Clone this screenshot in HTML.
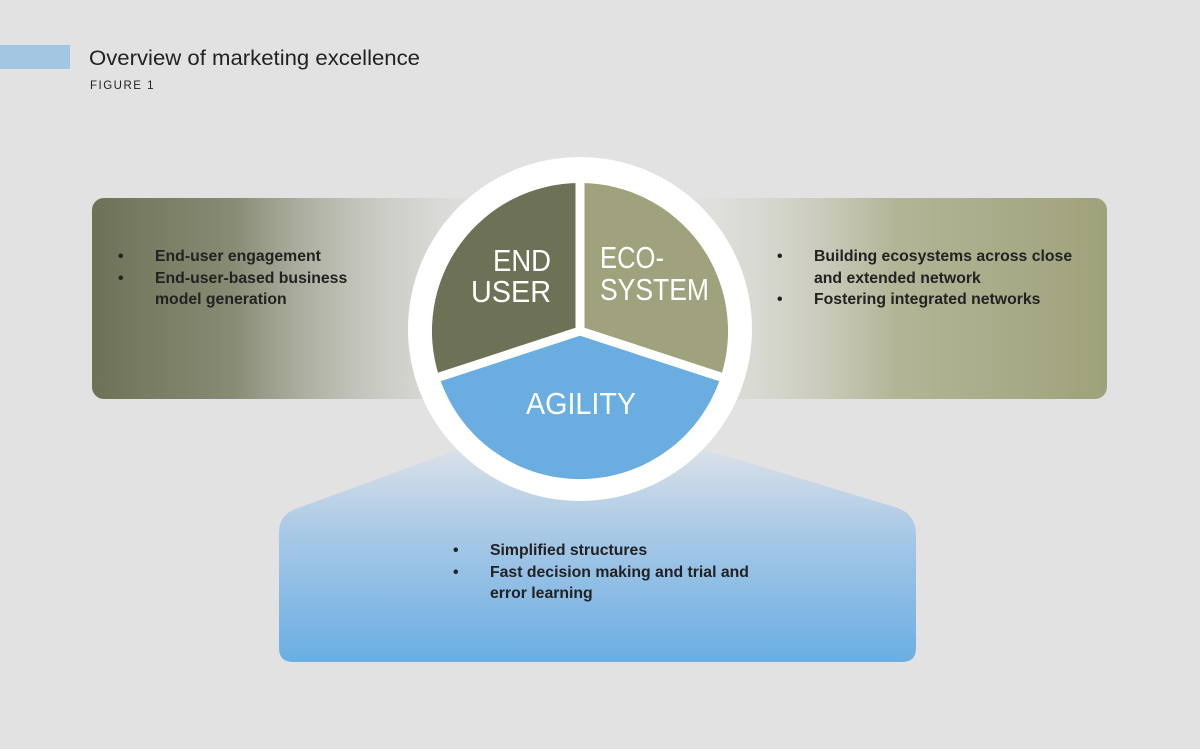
<!DOCTYPE html>
<html><head><meta charset="utf-8"><style>
body{margin:0;width:1200px;height:749px;overflow:hidden;background:#e2e2e3;font-family:"Liberation Sans",sans-serif;}
.t{position:absolute;font-weight:bold;font-size:15.8px;color:#222;line-height:21.5px}
.t div{position:relative;padding-left:37px}
.t div.b:before{content:"•";position:absolute;left:0}
</style></head><body>
<svg width="1200" height="749" style="position:absolute;left:0;top:0">
<defs>
<linearGradient id="gl" x1="0" x2="1"><stop offset="0" stop-color="#6d7257"/><stop offset="0.35" stop-color="#878b73"/><stop offset="1" stop-color="#e0e0dc" stop-opacity="0.3"/></linearGradient>
<linearGradient id="gr" x1="0" x2="1"><stop offset="0" stop-color="#e0e0dc" stop-opacity="0.3"/><stop offset="0.5" stop-color="#b3b597"/><stop offset="1" stop-color="#9fa27a"/></linearGradient>
<linearGradient id="gb" x1="0" y1="0" x2="0" y2="1"><stop offset="0" stop-color="#dde2e8"/><stop offset="0.4" stop-color="#a9c9e6"/><stop offset="1" stop-color="#6aaee3"/></linearGradient>
</defs>
<rect x="0" y="45" width="70" height="24" fill="#a3c6e2"/>
<rect x="92" y="198" width="400" height="201" rx="12" fill="url(#gl)"/>
<rect x="680" y="198" width="427" height="201" rx="12" fill="url(#gr)"/>
<path d="M298,508 L470,445 L690,445 L898,508 Q916,515 916,535 L916,648 Q916,662 902,662 L293,662 Q279,662 279,648 L279,532 Q279,514 298,508 Z" fill="url(#gb)"/>
<circle cx="580" cy="329" r="172" fill="#fff"/>
<path d="M580,331 L580,183 A148,148 0 0,0 439.2,376.7 Z" fill="#6d7257"/>
<path d="M580,331 L580,183 A148,148 0 0,1 720.8,376.7 Z" fill="#9fa27c"/>
<path d="M580,331 L439.2,376.7 A148,148 0 0,0 720.8,376.7 Z" fill="#6aade0"/>
<g stroke="#fff" stroke-width="9" stroke-linecap="butt">
<line x1="580" y1="331" x2="580" y2="175"/>
<line x1="580" y1="331" x2="430" y2="380"/>
<line x1="580" y1="331" x2="730" y2="380"/>
</g>
<g fill="#fff" font-family="Liberation Sans, sans-serif" font-size="31">
<text x="493" y="271" textLength="58" lengthAdjust="spacingAndGlyphs">END</text>
<text x="471" y="302" textLength="80" lengthAdjust="spacingAndGlyphs">USER</text>
<text x="600" y="268" textLength="64" lengthAdjust="spacingAndGlyphs">ECO-</text>
<text x="600" y="300" textLength="109" lengthAdjust="spacingAndGlyphs">SYSTEM</text>
<text x="526" y="414" textLength="110" lengthAdjust="spacingAndGlyphs">AGILITY</text>
</g>
<text x="89" y="65" font-size="21" fill="#222" textLength="331" lengthAdjust="spacingAndGlyphs">Overview of marketing excellence</text>
<text x="90" y="89" font-size="11.5" fill="#222" letter-spacing="1.5">FIGURE 1</text>
</svg>
<div class="t" style="left:118px;top:246px"><div class="b">End-user engagement</div><div class="b">End-user-based business<br>model generation</div></div>
<div class="t" style="left:777px;top:246px"><div class="b">Building ecosystems across close<br>and extended network</div><div class="b">Fostering integrated networks</div></div>
<div class="t" style="left:453px;top:540px"><div class="b">Simplified structures</div><div class="b">Fast decision making and trial and<br>error learning</div></div>
</body></html>
